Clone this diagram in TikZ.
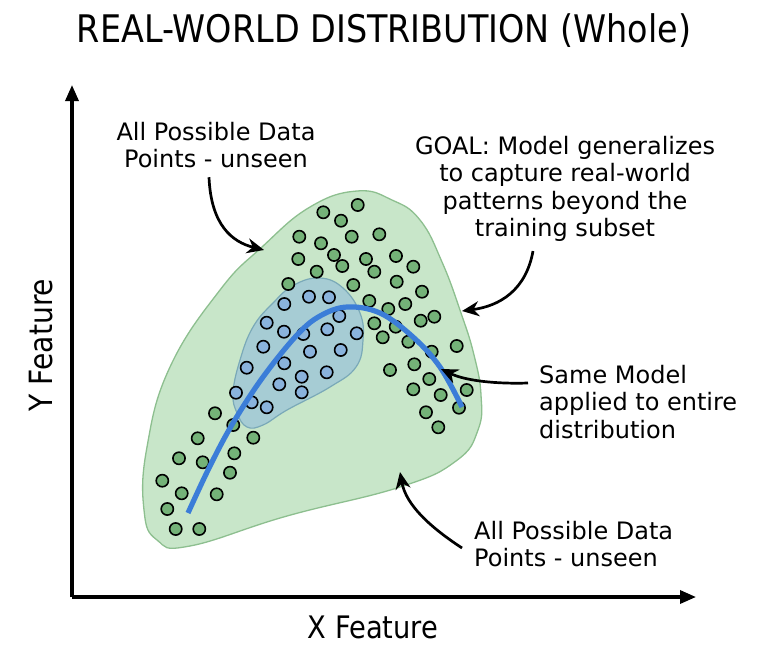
\documentclass[tikz,border=0pt]{standalone}
\usepackage{fontspec}
\setmainfont{DejaVu Sans}
\newfontfamily\condsans[FakeStretch=0.88]{DejaVu Sans}
\usetikzlibrary{arrows.meta}

\definecolor{regionfill}{HTML}{C8E6C9}
\definecolor{regionedge}{HTML}{8DBF8F}
\definecolor{subsetfill}{HTML}{A6CCD4}
\definecolor{subsetedge}{HTML}{7AA9B8}
\definecolor{dotgreen}{HTML}{74B278}
\definecolor{dotblue}{HTML}{8AB3DC}
\definecolor{modelblue}{HTML}{3B7DD8}

\tikzset{
  axisline/.style={line width=3.3pt, -{Triangle[length=16pt,width=13pt]}},
  callout/.style={line width=2.7pt, -{Stealth[length=17pt,width=15pt]}},
  annot/.style={font=\fontsize{24}{27.5}\selectfont, align=center, inner sep=0pt},
  annotleft/.style={annot, align=left},
  gdot/.style={fill=dotgreen, draw=black, line width=1.6pt},
  bdot/.style={fill=dotblue, draw=black, line width=1.6pt},
}

\begin{document}
\begin{tikzpicture}[x=1pt,y=-1pt]
\useasboundingbox (0,0) rectangle (762,645);

% title and axis labels
\node[font=\condsans\fontsize{38}{42}\selectfont, inner sep=0pt] (title) at (384,31) {REAL-WORLD DISTRIBUTION (Whole)};
\node[font=\condsans\fontsize{31}{35}\selectfont, inner sep=0pt] (xlab) at (373,627) {X Feature};
\node[font=\condsans\fontsize{32}{36}\selectfont, inner sep=0pt, rotate=90] (ylab) at (41,345) {Y Feature};

% axes
\coordinate (origin) at (72,597);
\coordinate (ytip) at (72,85);
\coordinate (xtip) at (696,597);
\draw[axisline] (origin) -- (ytip);
\draw[axisline] (origin) -- (xtip);

% whole distribution region
\draw[fill=regionfill, draw=regionedge, line width=1.3pt]
  plot[smooth cycle, tension=0.75] coordinates {
    (357,191) (392,200) (420,220) (442,262) (461,313) (474,355) (481,395)
    (478,430) (456,461) (400,487) (287,516) (190,546) (157,540)
    (144,510) (147,447) (170,367) (220,290) (262,247) (310,207)};

% training subset region
\draw[fill=subsetfill, draw=subsetedge, line width=1.2pt]
  plot[smooth cycle, tension=0.7] coordinates {
    (320,278) (343,288) (360,313) (363,340) (356,367) (330,387) (287,410)
    (263,425) (247,427) (237,413) (233,393) (240,360) (253,327) (273,303) (294,285)};

% unseen data points
\foreach \px/\py in {
  357.7/205, 323.3/212.3, 341/220.7, 299.3/236.7, 351.7/236.7, 379.3/234.3,
  321/243.3, 334/255, 342.3/266, 298.3/259, 366/259, 396/256, 413.3/266.7,
  374.3/271.7, 316.7/271.7, 288.3/284, 353.3/285, 396.7/281.7, 422/291.7,
  369.3/301, 405.3/304, 388.3/309, 420.7/320.7, 434.3/316.7, 374.3/323.3,
  395.7/326.7, 382.7/337.3, 408.3/341.7, 456.7/346, 431.7/351.7, 390/370,
  414.3/364.3, 429.3/379, 466.7/390, 413.3/389.3, 440.7/395, 459/407.7,
  426/412.3, 438.3/427.3,
  215/413.3, 233.3/425, 253.3/437.7, 197.7/438.3, 234.3/453.3, 179/458.3,
  202.7/462.3, 230/472.7, 162.3/480.7, 181.7/493.3, 216.7/494.3, 167.3/509,
  175.7/529, 199.3/529}
  \draw[gdot] (\px,\py) circle[radius=6.1pt];

% training data points
\foreach \px/\py in {
  309/296.7, 329/297.3, 284.3/304, 266.7/322.7, 339.3/316, 284/331.7,
  303.3/334, 327.3/329.3, 356.7/333.3, 263.3/346.7, 310/351.7, 340.7/350,
  246.7/367.7, 284.3/363.3, 301.7/376.7, 326.7/372.3, 279.3/384.3,
  301.7/392.3, 236/392.7, 251.7/402.3, 266.7/407.3}
  \draw[bdot] (\px,\py) circle[radius=6.1pt];

% fitted model curve
\draw[modelblue, line width=5.2pt]
  plot[smooth, tension=0.6] coordinates {
    (188,513) (210,466) (233,423) (263,377) (297,335) (320,316) (347,307)
    (380,313) (413,337) (440,367) (462,407)};

% annotations
\node[annot] (unseenA) at (216,145) {All Possible Data\\Points - unseen};
\node[annot] (goal) at (565,189) {GOAL: Model generalizes\\to capture real-world\\patterns beyond the\\training subset};
\node[annotleft, anchor=west] (same) at (539,402) {Same Model\\applied to entire\\distribution};
\node[annotleft, anchor=west] (unseenB) at (474,544) {All Possible Data\\Points - unseen};

% callout targets
\coordinate (tA) at (264,250);
\coordinate (tGoal) at (462,311);
\coordinate (tSame) at (441,369);
\coordinate (tB) at (400,472);

\draw[callout] ([xshift=-7pt,yshift=-9pt]unseenA.south) .. controls (211,225) and (232,242) .. (tA);
\draw[callout] ([xshift=-32pt,yshift=-9pt]goal.south) .. controls (526,290) and (500,306) .. (tGoal);
\draw[callout] ([xshift=-11pt,yshift=-18pt]same.north west) .. controls (497,384) and (466,381) .. (tSame);
\draw[callout] ([xshift=-12pt,yshift=-4pt]unseenB.west) .. controls (430,527) and (406,505) .. (tB);
\end{tikzpicture}
\end{document}
